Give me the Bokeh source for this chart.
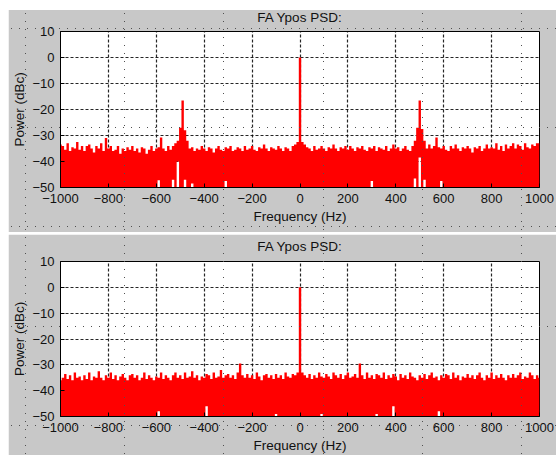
from bokeh.plotting import figure
from bokeh.models import FixedTicker, ColumnDataSource, Spacer, InlineStyleSheet, LinearAxis
from bokeh.layouts import column, row
from bokeh.embed import file_html
from bokeh.resources import INLINE

# ---------------- data ----------------
freqs = list(range(-1000, 1001, 10))  # Hz, bin centres

top_psd = [
    -33.5, -34, -35.5, -33, -36, -34.5, -35, -32.5, -35.5, -34,
    -36, -34, -33.5, -35, -36.5, -34, -35, -33, -36, -31,
    -35, -34, -36, -35.5, -34, -37, -35, -36, -34.5, -35.5,
    -34, -36, -35, -36.5, -34.5, -35, -37, -35.5, -34, -36,
    -35, -34.5, -30.8, -35, -36, -34, -35.5, -34, -33, -32,
    -27, -16.5, -28, -32, -35, -34.5, -36, -35, -35.5, -34,
    -35, -36, -34.5, -35, -36.5, -35, -34, -35.5, -36, -34.5,
    -35, -34, -36, -35.5, -34.5, -35, -36, -34, -35.5, -35,
    -34, -35.5, -36, -34.5, -35, -33.5, -35, -36, -34.5, -35,
    -35.5, -34, -35, -36, -34.5, -35, -36, -34, -33.5, -32.5,
    0, -32.5, -33.5, -34.5, -35, -36, -34, -35.5, -35, -34,
    -35, -36, -34.5, -35, -33.5, -35, -36, -34.5, -35, -34,
    -35.5, -34, -35, -36, -34.5, -35, -34, -35.5, -36, -34.5,
    -35, -34, -36, -34.5, -35, -35.5, -34, -36, -35, -33.5,
    -35, -34.5, -36, -35, -34, -35.5, -36, -34, -32, -27,
    -16.5, -27.5, -32, -35, -33.5, -35, -34, -30.8, -34.5, -35,
    -34, -35.5, -36, -34, -35, -33.5, -35, -36, -34.5, -35,
    -34, -35, -36.5, -34.5, -35, -34, -36, -35, -33.5, -35,
    -34.5, -35, -33, -35.5, -34, -36, -33.5, -35, -34, -33,
    -35, -33.5, -34, -35.5, -33, -34.5, -35, -33.5, -34, -33,
    -33,
]

bottom_psd = [
    -36, -35, -33.5, -35.5, -34, -36, -33, -35, -34.5, -36,
    -34, -35.5, -33, -36, -34.5, -35, -32.5, -35, -36, -34,
    -35, -33, -35.5, -34, -36, -34.5, -33.5, -35, -36, -34,
    -33.5, -35, -34, -36, -35, -33, -35.5, -34, -35, -36,
    -34.5, -35, -33, -35.5, -34, -35, -36, -34, -33, -35,
    -34, -35.5, -33, -35, -34.5, -32.5, -35, -34, -36, -34.5,
    -35, -33.5, -34, -35.5, -33, -35, -34.5, -32, -35, -34,
    -33.5, -35, -34, -35.5, -33, -29.5, -34, -35, -33.5, -35,
    -34, -35.5, -33, -34.5, -36, -34, -33.5, -35, -34, -35.5,
    -33.5, -35, -34, -35.5, -33, -34.5, -35, -33.5, -34, -33,
    0, -33, -34, -35, -33.5, -35.5, -34, -35, -33, -34.5,
    -35, -33.5, -34.5, -35.5, -33, -34, -35, -33.5, -35.5, -34,
    -33, -35, -34.5, -33.5, -35, -29.5, -34, -35.5, -33, -35,
    -34, -35.5, -33.5, -34, -35, -33, -35.5, -34, -35, -33.5,
    -34.5, -36, -33.5, -35, -34, -35.5, -33, -34.5, -35, -36,
    -34, -35, -33.5, -35.5, -34, -33, -35, -34.5, -36, -34,
    -35, -33.5, -34, -35.5, -33, -35, -34, -36, -34.5, -35,
    -33.5, -35, -34, -35.5, -34, -33, -35, -36, -34, -35,
    -33, -35.5, -34, -35, -33.5, -35, -36, -34, -35, -33.5,
    -35, -34, -33, -35.5, -34.5, -35, -33, -34, -35.5, -34,
    -35,
]

# white gaps at the bottom of the filled trace (freq, level where red resumes)
top_gap_freq = [-590, -530, -510, -480, -450, -310, 300, 480, 500, 520, 590]
top_gap_level = [-47.2, -47, -40, -47, -48.5, -47.5, -47.5, -46.5, -38.5, -47, -47.5]
bottom_gap_freq = [-590, -390, -100, 90, 320, 390, 580]
bottom_gap_level = [-48, -46, -49, -49, -49, -46, -48]

x_ticks = [-1000, -800, -600, -400, -200, 0, 200, 400, 600, 800, 1000]
y_ticks = [-50, -40, -30, -20, -10, 0, 10]

TITLE = "FA Ypos PSD:"
XLABEL = "Frequency (Hz)"
YLABEL = "Power (dBc)"

# ---------------- styling ----------------
FIG_BG = "#c8c8c8"
FONT = "Liberation Sans"
FS_TICK = "13px"
FS_LABEL = "13.5px"
INK = "#111111"


def make_panel(psd, gap_f, gap_l, height, top, bottom, title_standoff):
    lo = [-60.0] * len(freqs)
    for f, l in zip(gap_f, gap_l):
        lo[freqs.index(f)] = l
    src = ColumnDataSource(dict(f=freqs, hi=psd, lo=lo))

    p = figure(width=548, height=height, x_range=(-1000, 1000), y_range=(-50, 10),
               output_backend="svg", toolbar_location=None,
               min_border_left=52, min_border_right=17,
               min_border_top=top, min_border_bottom=bottom,
               background_fill_color="white", border_fill_color=FIG_BG,
               outline_line_color="black", outline_line_width=1)
    p.varea_step(x="f", y1="lo", y2="hi", source=src, step_mode="center",
                 fill_color="#ff0000")

    xax = p.below[0]
    yax = p.left[0]
    xax.ticker = FixedTicker(ticks=x_ticks)
    yax.ticker = FixedTicker(ticks=y_ticks)
    p.xgrid[0].ticker = FixedTicker(ticks=x_ticks)
    p.ygrid[0].ticker = FixedTicker(ticks=y_ticks)
    xax.axis_label = XLABEL
    yax.axis_label = YLABEL
    for ax in (xax, yax):
        ax.major_label_text_font = FONT
        ax.major_label_text_font_size = FS_TICK
        ax.major_label_text_color = INK
        ax.axis_label_text_font = FONT
        ax.axis_label_text_font_size = FS_LABEL
        ax.axis_label_text_font_style = "normal"
        ax.axis_label_text_color = INK
        ax.axis_line_color = "black"
        ax.major_tick_in = 4
        ax.major_tick_out = 0
        ax.minor_tick_line_color = None
    xax.major_label_standoff = 6
    xax.axis_label_standoff = 3
    yax.major_label_standoff = 6
    yax.axis_label_standoff = 2

    # title drawn as the label of a tick-less axis above the frame
    ta = LinearAxis(axis_label=TITLE, ticker=FixedTicker(ticks=[]),
                    axis_line_color=None, major_tick_in=0, major_tick_out=0,
                    minor_tick_in=0, minor_tick_out=0,
                    major_label_standoff=0, axis_label_standoff=title_standoff,
                    axis_label_text_font=FONT, axis_label_text_font_size=FS_LABEL,
                    axis_label_text_font_style="normal", axis_label_text_color=INK,
                    axis_label_text_line_height=1.0)
    p.add_layout(ta, "above")

    for g in (p.xgrid[0], p.ygrid[0]):
        g.grid_line_color = "#000000"
        g.grid_line_dash = "3 2"
        g.grid_line_width = 1.2
        g.grid_line_alpha = 0.85
    return p


p1 = make_panel(top_psd, top_gap_freq, top_gap_level, 232, 31, 45, 7)
p2 = make_panel(bottom_psd, bottom_gap_freq, bottom_gap_level, 221, 27, 39, 8)

# overlay: white strip above the grey figure + dotted layout-guide lines
vx = [17, 116, 215, 315, 414, 513]
hy = [28, 127, 226, 326, 425]
imgs = ["linear-gradient(#ffffff, #ffffff)"]
sizes = ["548px 10px"]
poss = ["0px 0px"]
reps = ["no-repeat"]
for x in vx:
    imgs.append("linear-gradient(to bottom, #505050 1px, transparent 1px)")
    sizes.append("1px 8px"); poss.append(f"{x}px 5px"); reps.append("repeat-y")
for y in hy:
    imgs.append("linear-gradient(to right, #505050 1px, transparent 1px)")
    sizes.append("8px 1px"); poss.append(f"3px {y}px"); reps.append("repeat-x")
css = (":host::after { content: ''; position: absolute; left: 8px; top: 0px; "
       "width: 548px; height: 455px; pointer-events: none; z-index: 100; "
       f"background-image: {', '.join(imgs)}; background-size: {', '.join(sizes)}; "
       f"background-position: {', '.join(poss)}; background-repeat: {', '.join(reps)}; }}")

inner = column(p1, p2, spacing=2)
layout = row(Spacer(width=8, height=455), inner, spacing=0,
             stylesheets=[InlineStyleSheet(css=css)])

open("out.html", "w").write(file_html(layout, INLINE))
